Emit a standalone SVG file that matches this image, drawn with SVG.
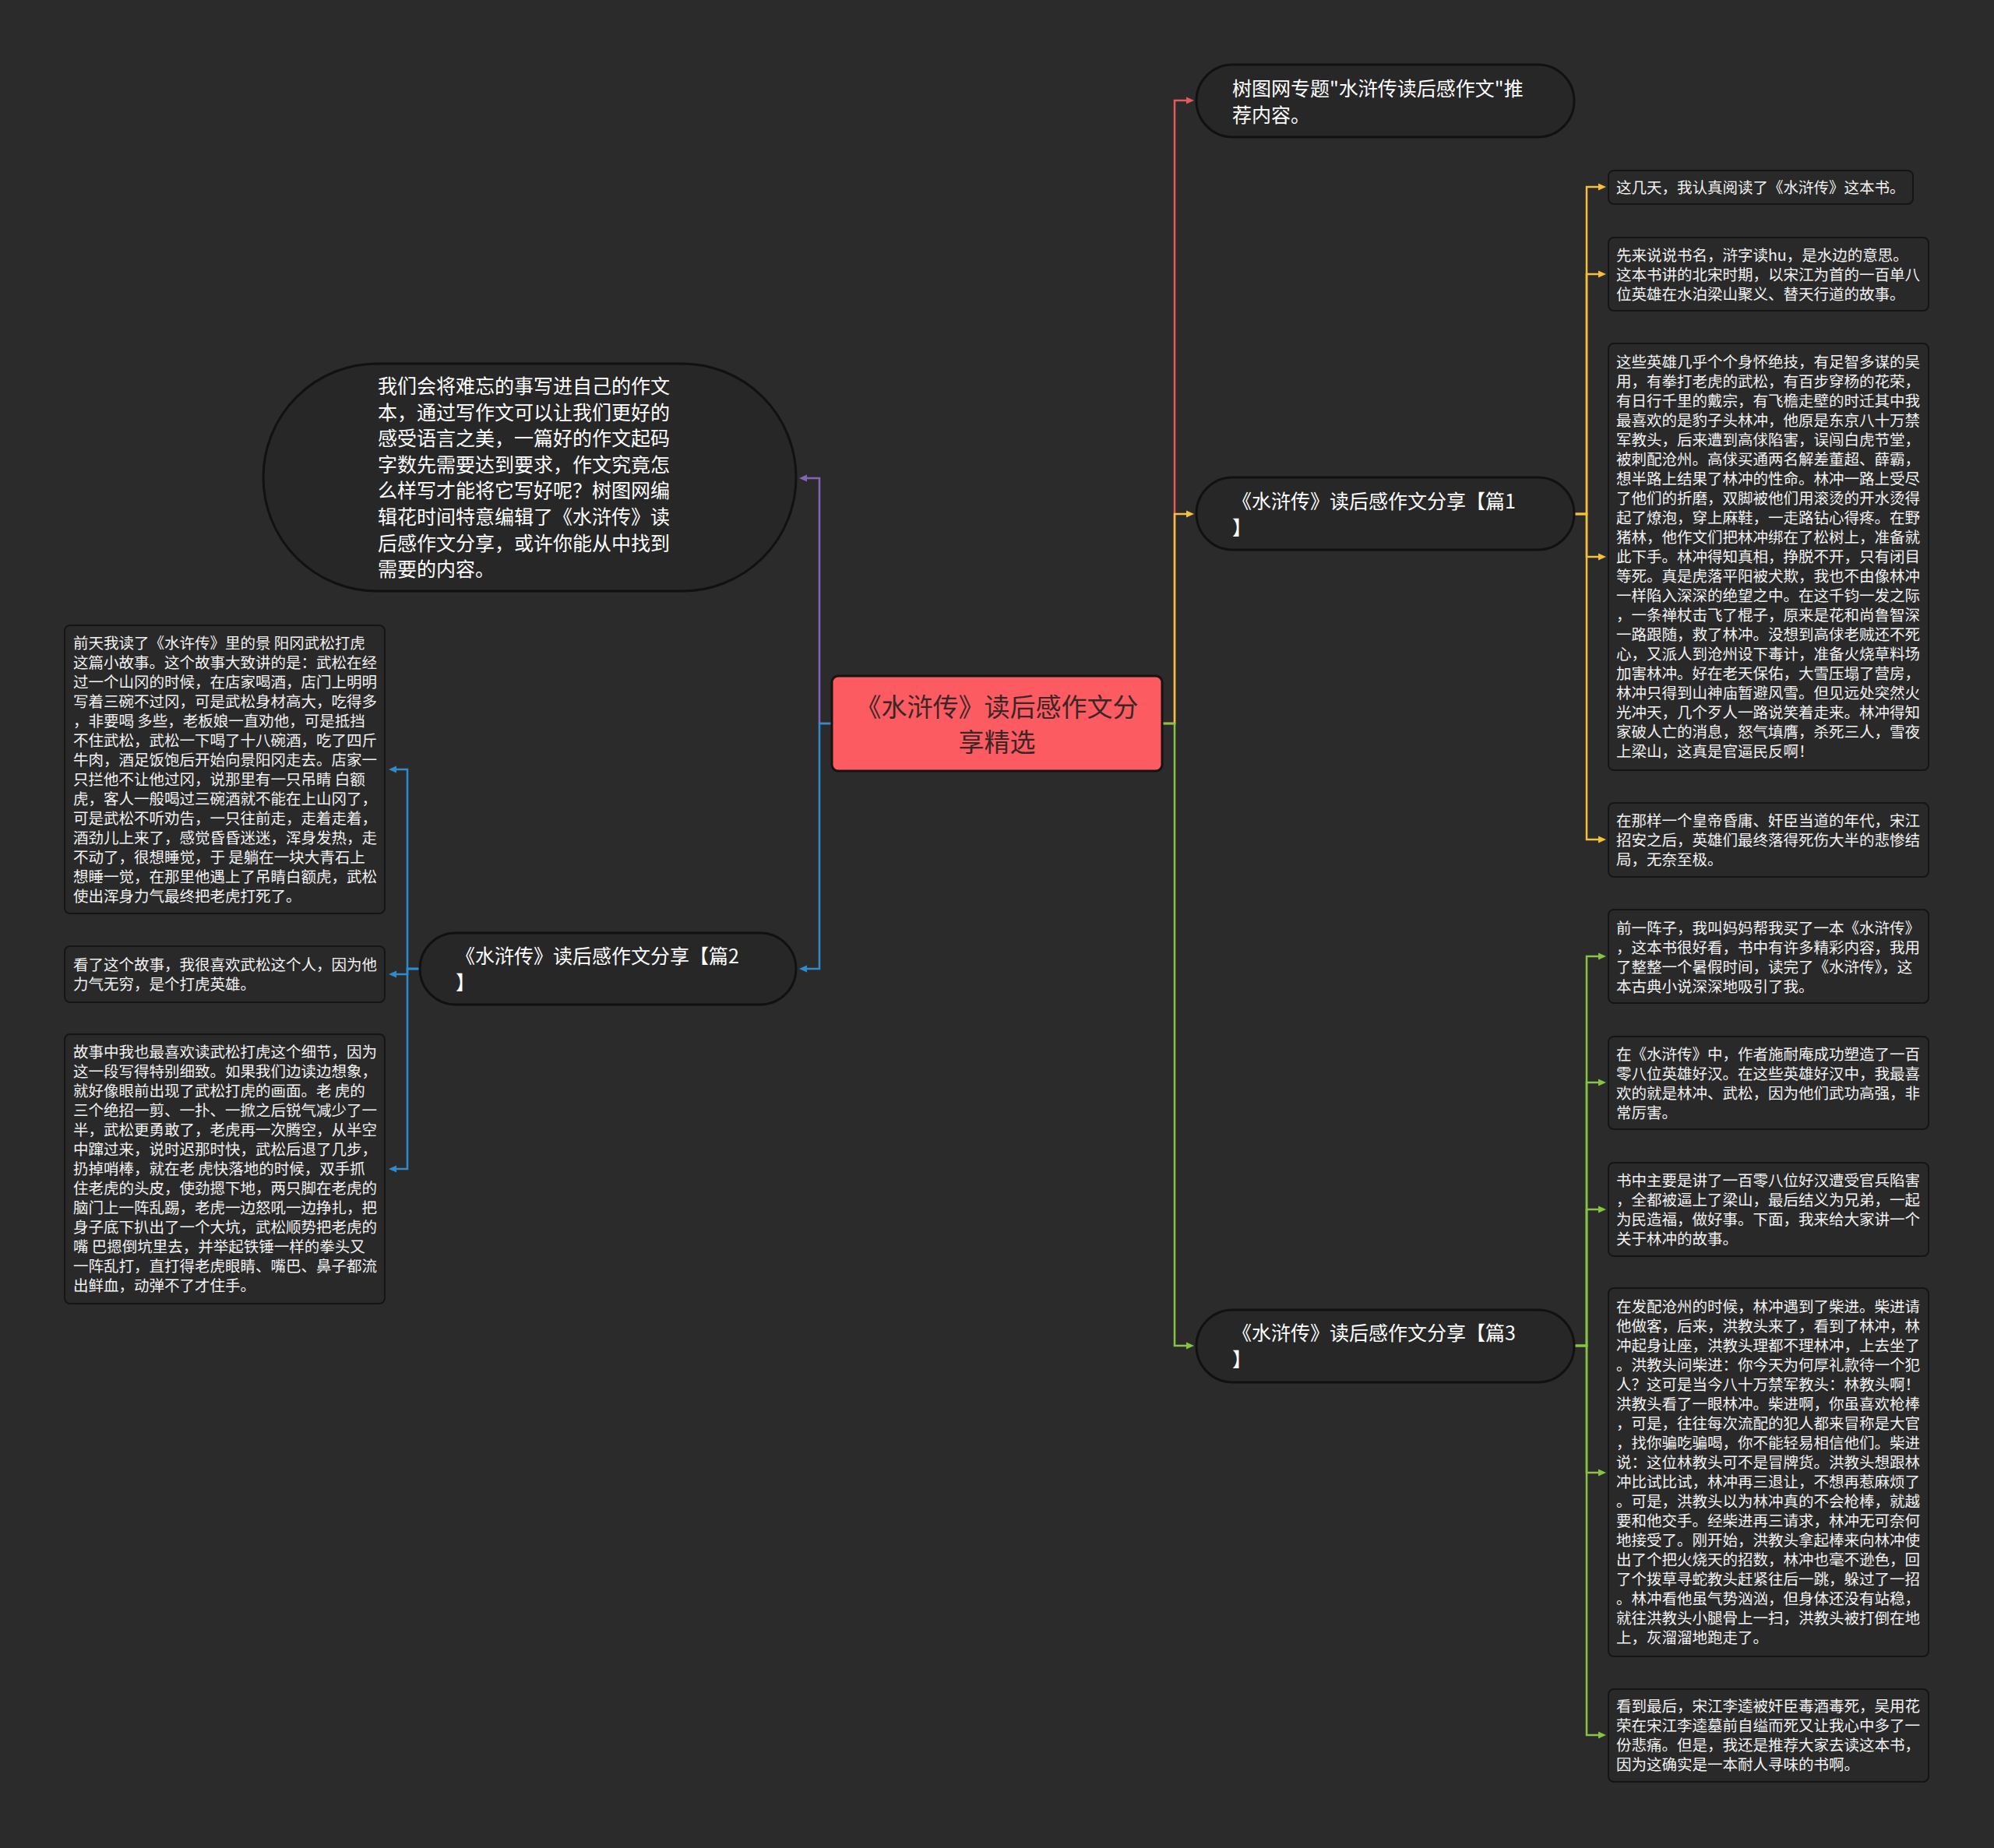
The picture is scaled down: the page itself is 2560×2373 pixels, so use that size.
<svg xmlns="http://www.w3.org/2000/svg" width="2560" height="2373" viewBox="0 0 2560 2373">
<defs>
<style>
text { font-family: "Noto Sans CJK SC", "Noto Sans", "Liberation Sans", sans-serif; }
.leaf rect { fill: #292929; stroke: #151515; stroke-width: 2; }
.leaf text { font-size: 19.5px; fill: #f2f2f2; }
.l1 rect { fill: #272727; stroke: #111111; stroke-width: 3; }
.l1 text { font-size: 25px; fill: #ffffff; }
.root rect { fill: #fb5b61; stroke: #141414; stroke-width: 3; }
.root text { font-size: 33px; fill: #3a2627; text-anchor: middle; }
.edge { fill: none; stroke-width: 2.5; stroke-linejoin: miter; }
</style>
<marker id="aR" markerUnits="userSpaceOnUse" markerWidth="10" markerHeight="10" refX="4" refY="5" orient="auto"><path d="M0,0.5 L10,5 L0,9.5 z" fill="#e9585b"/></marker>
<marker id="aY" markerUnits="userSpaceOnUse" markerWidth="10" markerHeight="10" refX="4" refY="5" orient="auto"><path d="M0,0.5 L10,5 L0,9.5 z" fill="#f4c03e"/></marker>
<marker id="aG" markerUnits="userSpaceOnUse" markerWidth="10" markerHeight="10" refX="4" refY="5" orient="auto"><path d="M0,0.5 L10,5 L0,9.5 z" fill="#86c541"/></marker>
<marker id="aB" markerUnits="userSpaceOnUse" markerWidth="10" markerHeight="10" refX="4" refY="5" orient="auto"><path d="M0,0.5 L10,5 L0,9.5 z" fill="#2f8bcb"/></marker>
<marker id="aP" markerUnits="userSpaceOnUse" markerWidth="10" markerHeight="10" refX="4" refY="5" orient="auto"><path d="M0,0.5 L10,5 L0,9.5 z" fill="#8564b8"/></marker>
</defs>
<rect x="0" y="0" width="2560" height="2373" fill="#2b2b2b"/>

<g id="connectors">
  <path class="edge" stroke="#e9585b" marker-end="url(#aR)" d="M1492,929 H1508 V129 H1527"/>
  <path class="edge" stroke="#f4c03e" marker-end="url(#aY)" d="M1492,929 H1508 V660 H1527"/>
  <path class="edge" stroke="#86c541" marker-end="url(#aG)" d="M1492,929 H1508 V1728 H1527"/>
  <path class="edge" stroke="#8564b8" marker-end="url(#aP)" d="M1068,929 H1052 V614 H1032"/>
  <path class="edge" stroke="#2f8bcb" marker-end="url(#aB)" d="M1068,929 H1052 V1244 H1032"/>

  <path class="edge" stroke="#f4c03e" marker-end="url(#aY)" d="M2020,660 H2037 V240 H2056"/>
  <path class="edge" stroke="#f4c03e" marker-end="url(#aY)" d="M2020,660 H2037 V352 H2056"/>
  <path class="edge" stroke="#f4c03e" marker-end="url(#aY)" d="M2020,660 H2037 V715 H2056"/>
  <path class="edge" stroke="#f4c03e" marker-end="url(#aY)" d="M2020,660 H2037 V1078 H2056"/>

  <path class="edge" stroke="#86c541" marker-end="url(#aG)" d="M2020,1728 H2037 V1228 H2056"/>
  <path class="edge" stroke="#86c541" marker-end="url(#aG)" d="M2020,1728 H2037 V1390 H2056"/>
  <path class="edge" stroke="#86c541" marker-end="url(#aG)" d="M2020,1728 H2037 V1553 H2056"/>
  <path class="edge" stroke="#86c541" marker-end="url(#aG)" d="M2020,1728 H2037 V1891 H2056"/>
  <path class="edge" stroke="#86c541" marker-end="url(#aG)" d="M2020,1728 H2037 V2228 H2056"/>

  <path class="edge" stroke="#2f8bcb" marker-end="url(#aB)" d="M539,1244 H523 V988 H505"/>
  <path class="edge" stroke="#2f8bcb" marker-end="url(#aB)" d="M539,1244 H523 V1251 H505"/>
  <path class="edge" stroke="#2f8bcb" marker-end="url(#aB)" d="M539,1244 H523 V1501 H505"/>
</g>

<g id="root" class="root">
  <rect x="1068" y="868" width="424" height="122" rx="8"/>
  <text x="1280" y="920">《水浒传》读后感作文分</text>
  <text x="1280" y="965">享精选</text>
</g>

<g id="topic-intro" class="l1">
  <rect x="338" y="467" width="684" height="292" rx="146"/>
  <text x="485" y="505">
    <tspan x="485" dy="0">我们会将难忘的事写进自己的作文</tspan>
    <tspan x="485" dy="33.6">本，通过写作文可以让我们更好的</tspan>
    <tspan x="485" dy="33.6">感受语言之美，一篇好的作文起码</tspan>
    <tspan x="485" dy="33.6">字数先需要达到要求，作文究竟怎</tspan>
    <tspan x="485" dy="33.6">么样写才能将它写好呢？树图网编</tspan>
    <tspan x="485" dy="33.6">辑花时间特意编辑了《水浒传》读</tspan>
    <tspan x="485" dy="33.6">后感作文分享，或许你能从中找到</tspan>
    <tspan x="485" dy="33.6">需要的内容。</tspan>
  </text>
</g>

<g id="topic-recommend" class="l1">
  <rect x="1536" y="83" width="485" height="93" rx="46.5"/>
  <text x="1582" y="122.5">树图网专题"水浒传读后感作文"推</text>
  <text x="1582" y="156.5">荐内容。</text>
</g>

<g id="topic-p1" class="l1">
  <rect x="1536" y="613" width="485" height="93" rx="46.5"/>
  <text x="1582" y="652.5">《水浒传》读后感作文分享【篇1</text>
  <text x="1582" y="686.5">】</text>
</g>

<g id="topic-p3" class="l1">
  <rect x="1536" y="1682" width="485" height="93" rx="46.5"/>
  <text x="1582" y="1720.5">《水浒传》读后感作文分享【篇3</text>
  <text x="1582" y="1754.5">】</text>
</g>

<g id="topic-p2" class="l1">
  <rect x="539" y="1198" width="483" height="92" rx="46"/>
  <text x="585" y="1236.5">《水浒传》读后感作文分享【篇2</text>
  <text x="585" y="1270.5">】</text>
</g>

<g id="p1-a" class="leaf">
  <rect x="2065" y="219" width="391" height="43" rx="7"/>
  <text x="2075" y="248">这几天，我认真阅读了《水浒传》这本书。</text>
</g>

<g id="p1-b" class="leaf">
  <rect x="2065" y="305" width="411" height="94" rx="7"/>
  <text x="2075" y="335">
    <tspan x="2075" dy="0">先来说说书名，浒字读hu，是水边的意思。</tspan>
    <tspan x="2075" dy="25">这本书讲的北宋时期，以宋江为首的一百单八</tspan>
    <tspan x="2075" dy="25">位英雄在水泊梁山聚义、替天行道的故事。</tspan>
  </text>
</g>

<g id="p1-c" class="leaf">
  <rect x="2065" y="441" width="411" height="548" rx="7"/>
  <text x="2075" y="472">
    <tspan x="2075" dy="0">这些英雄几乎个个身怀绝技，有足智多谋的吴</tspan>
    <tspan x="2075" dy="25">用，有拳打老虎的武松，有百步穿杨的花荣，</tspan>
    <tspan x="2075" dy="25">有日行千里的戴宗，有飞檐走壁的时迁其中我</tspan>
    <tspan x="2075" dy="25">最喜欢的是豹子头林冲，他原是东京八十万禁</tspan>
    <tspan x="2075" dy="25">军教头，后来遭到高俅陷害，误闯白虎节堂，</tspan>
    <tspan x="2075" dy="25">被刺配沧州。高俅买通两名解差董超、薛霸，</tspan>
    <tspan x="2075" dy="25">想半路上结果了林冲的性命。林冲一路上受尽</tspan>
    <tspan x="2075" dy="25">了他们的折磨，双脚被他们用滚烫的开水烫得</tspan>
    <tspan x="2075" dy="25">起了燎泡，穿上麻鞋，一走路钻心得疼。在野</tspan>
    <tspan x="2075" dy="25">猪林，他作文们把林冲绑在了松树上，准备就</tspan>
    <tspan x="2075" dy="25">此下手。林冲得知真相，挣脱不开，只有闭目</tspan>
    <tspan x="2075" dy="25">等死。真是虎落平阳被犬欺，我也不由像林冲</tspan>
    <tspan x="2075" dy="25">一样陷入深深的绝望之中。在这千钧一发之际</tspan>
    <tspan x="2075" dy="25">，一条禅杖击飞了棍子，原来是花和尚鲁智深</tspan>
    <tspan x="2075" dy="25">一路跟随，救了林冲。没想到高俅老贼还不死</tspan>
    <tspan x="2075" dy="25">心，又派人到沧州设下毒计，准备火烧草料场</tspan>
    <tspan x="2075" dy="25">加害林冲。好在老天保佑，大雪压塌了营房，</tspan>
    <tspan x="2075" dy="25">林冲只得到山神庙暂避风雪。但见远处突然火</tspan>
    <tspan x="2075" dy="25">光冲天，几个歹人一路说笑着走来。林冲得知</tspan>
    <tspan x="2075" dy="25">家破人亡的消息，怒气填膺，杀死三人，雪夜</tspan>
    <tspan x="2075" dy="25">上梁山，这真是官逼民反啊！</tspan>
  </text>
</g>

<g id="p1-d" class="leaf">
  <rect x="2065" y="1031" width="411" height="95" rx="7"/>
  <text x="2075" y="1061">
    <tspan x="2075" dy="0">在那样一个皇帝昏庸、奸臣当道的年代，宋江</tspan>
    <tspan x="2075" dy="25">招安之后，英雄们最终落得死伤大半的悲惨结</tspan>
    <tspan x="2075" dy="25">局，无奈至极。</tspan>
  </text>
</g>

<g id="p3-a" class="leaf">
  <rect x="2065" y="1168" width="411" height="120" rx="7"/>
  <text x="2075" y="1198.5">
    <tspan x="2075" dy="0">前一阵子，我叫妈妈帮我买了一本《水浒传》</tspan>
    <tspan x="2075" dy="25">，这本书很好看，书中有许多精彩内容，我用</tspan>
    <tspan x="2075" dy="25">了整整一个暑假时间，读完了《水浒传》，这</tspan>
    <tspan x="2075" dy="25">本古典小说深深地吸引了我。</tspan>
  </text>
</g>

<g id="p3-b" class="leaf">
  <rect x="2065" y="1331" width="411" height="119" rx="7"/>
  <text x="2075" y="1360.5">
    <tspan x="2075" dy="0">在《水浒传》中，作者施耐庵成功塑造了一百</tspan>
    <tspan x="2075" dy="25">零八位英雄好汉。在这些英雄好汉中，我最喜</tspan>
    <tspan x="2075" dy="25">欢的就是林冲、武松，因为他们武功高强，非</tspan>
    <tspan x="2075" dy="25">常厉害。</tspan>
  </text>
</g>

<g id="p3-c" class="leaf">
  <rect x="2065" y="1493" width="411" height="120" rx="7"/>
  <text x="2075" y="1523">
    <tspan x="2075" dy="0">书中主要是讲了一百零八位好汉遭受官兵陷害</tspan>
    <tspan x="2075" dy="25">，全都被逼上了梁山，最后结义为兄弟，一起</tspan>
    <tspan x="2075" dy="25">为民造福，做好事。下面，我来给大家讲一个</tspan>
    <tspan x="2075" dy="25">关于林冲的故事。</tspan>
  </text>
</g>

<g id="p3-d" class="leaf">
  <rect x="2065" y="1654" width="411" height="473" rx="7"/>
  <text x="2075" y="1685">
    <tspan x="2075" dy="0">在发配沧州的时候，林冲遇到了柴进。柴进请</tspan>
    <tspan x="2075" dy="25">他做客，后来，洪教头来了，看到了林冲，林</tspan>
    <tspan x="2075" dy="25">冲起身让座，洪教头理都不理林冲，上去坐了</tspan>
    <tspan x="2075" dy="25">。洪教头问柴进：你今天为何厚礼款待一个犯</tspan>
    <tspan x="2075" dy="25">人？这可是当今八十万禁军教头：林教头啊！</tspan>
    <tspan x="2075" dy="25">洪教头看了一眼林冲。柴进啊，你虽喜欢枪棒</tspan>
    <tspan x="2075" dy="25">，可是，往往每次流配的犯人都来冒称是大官</tspan>
    <tspan x="2075" dy="25">，找你骗吃骗喝，你不能轻易相信他们。柴进</tspan>
    <tspan x="2075" dy="25">说：这位林教头可不是冒牌货。洪教头想跟林</tspan>
    <tspan x="2075" dy="25">冲比试比试，林冲再三退让，不想再惹麻烦了</tspan>
    <tspan x="2075" dy="25">。可是，洪教头以为林冲真的不会枪棒，就越</tspan>
    <tspan x="2075" dy="25">要和他交手。经柴进再三请求，林冲无可奈何</tspan>
    <tspan x="2075" dy="25">地接受了。刚开始，洪教头拿起棒来向林冲使</tspan>
    <tspan x="2075" dy="25">出了个把火烧天的招数，林冲也毫不逊色，回</tspan>
    <tspan x="2075" dy="25">了个拨草寻蛇教头赶紧往后一跳，躲过了一招</tspan>
    <tspan x="2075" dy="25">。林冲看他虽气势汹汹，但身体还没有站稳，</tspan>
    <tspan x="2075" dy="25">就往洪教头小腿骨上一扫，洪教头被打倒在地</tspan>
    <tspan x="2075" dy="25">上，灰溜溜地跑走了。</tspan>
  </text>
</g>

<g id="p3-e" class="leaf">
  <rect x="2065" y="2169" width="411" height="119" rx="7"/>
  <text x="2075" y="2198">
    <tspan x="2075" dy="0">看到最后，宋江李逵被奸臣毒酒毒死，吴用花</tspan>
    <tspan x="2075" dy="25">荣在宋江李逵墓前自缢而死又让我心中多了一</tspan>
    <tspan x="2075" dy="25">份悲痛。但是，我还是推荐大家去读这本书，</tspan>
    <tspan x="2075" dy="25">因为这确实是一本耐人寻味的书啊。</tspan>
  </text>
</g>

<g id="p2-a" class="leaf">
  <rect x="83" y="803" width="411" height="370" rx="7"/>
  <text x="94" y="832.5">
    <tspan x="94" dy="0">前天我读了《水许传》里的景 阳冈武松打虎</tspan>
    <tspan x="94" dy="25">这篇小故事。这个故事大致讲的是：武松在经</tspan>
    <tspan x="94" dy="25">过一个山冈的时候，在店家喝酒，店门上明明</tspan>
    <tspan x="94" dy="25">写着三碗不过冈，可是武松身材高大，吃得多</tspan>
    <tspan x="94" dy="25">，非要喝 多些，老板娘一直劝他，可是抵挡</tspan>
    <tspan x="94" dy="25">不住武松，武松一下喝了十八碗酒，吃了四斤</tspan>
    <tspan x="94" dy="25">牛肉，酒足饭饱后开始向景阳冈走去。店家一</tspan>
    <tspan x="94" dy="25">只拦他不让他过冈，说那里有一只吊睛 白额</tspan>
    <tspan x="94" dy="25">虎，客人一般喝过三碗酒就不能在上山冈了，</tspan>
    <tspan x="94" dy="25">可是武松不听劝告，一只往前走，走着走着，</tspan>
    <tspan x="94" dy="25">酒劲儿上来了，感觉昏昏迷迷，浑身发热，走</tspan>
    <tspan x="94" dy="25">不动了，很想睡觉，于 是躺在一块大青石上</tspan>
    <tspan x="94" dy="25">想睡一觉，在那里他遇上了吊睛白额虎，武松</tspan>
    <tspan x="94" dy="25">使出浑身力气最终把老虎打死了。</tspan>
  </text>
</g>

<g id="p2-b" class="leaf">
  <rect x="83" y="1215" width="411" height="72" rx="7"/>
  <text x="94" y="1245.5">
    <tspan x="94" dy="0">看了这个故事，我很喜欢武松这个人，因为他</tspan>
    <tspan x="94" dy="25">力气无穷，是个打虎英雄。</tspan>
  </text>
</g>

<g id="p2-c" class="leaf">
  <rect x="83" y="1328" width="411" height="346" rx="7"/>
  <text x="94" y="1358">
    <tspan x="94" dy="0">故事中我也最喜欢读武松打虎这个细节，因为</tspan>
    <tspan x="94" dy="25">这一段写得特别细致。如果我们边读边想象，</tspan>
    <tspan x="94" dy="25">就好像眼前出现了武松打虎的画面。老 虎的</tspan>
    <tspan x="94" dy="25">三个绝招一剪、一扑、一掀之后锐气减少了一</tspan>
    <tspan x="94" dy="25">半，武松更勇敢了，老虎再一次腾空，从半空</tspan>
    <tspan x="94" dy="25">中蹿过来，说时迟那时快，武松后退了几步，</tspan>
    <tspan x="94" dy="25">扔掉哨棒，就在老 虎快落地的时候，双手抓</tspan>
    <tspan x="94" dy="25">住老虎的头皮，使劲摁下地，两只脚在老虎的</tspan>
    <tspan x="94" dy="25">脑门上一阵乱踢，老虎一边怒吼一边挣扎，把</tspan>
    <tspan x="94" dy="25">身子底下扒出了一个大坑，武松顺势把老虎的</tspan>
    <tspan x="94" dy="25">嘴 巴摁倒坑里去，并举起铁锤一样的拳头又</tspan>
    <tspan x="94" dy="25">一阵乱打，直打得老虎眼睛、嘴巴、鼻子都流</tspan>
    <tspan x="94" dy="25">出鲜血，动弹不了才住手。</tspan>
  </text>
</g>
</svg>
